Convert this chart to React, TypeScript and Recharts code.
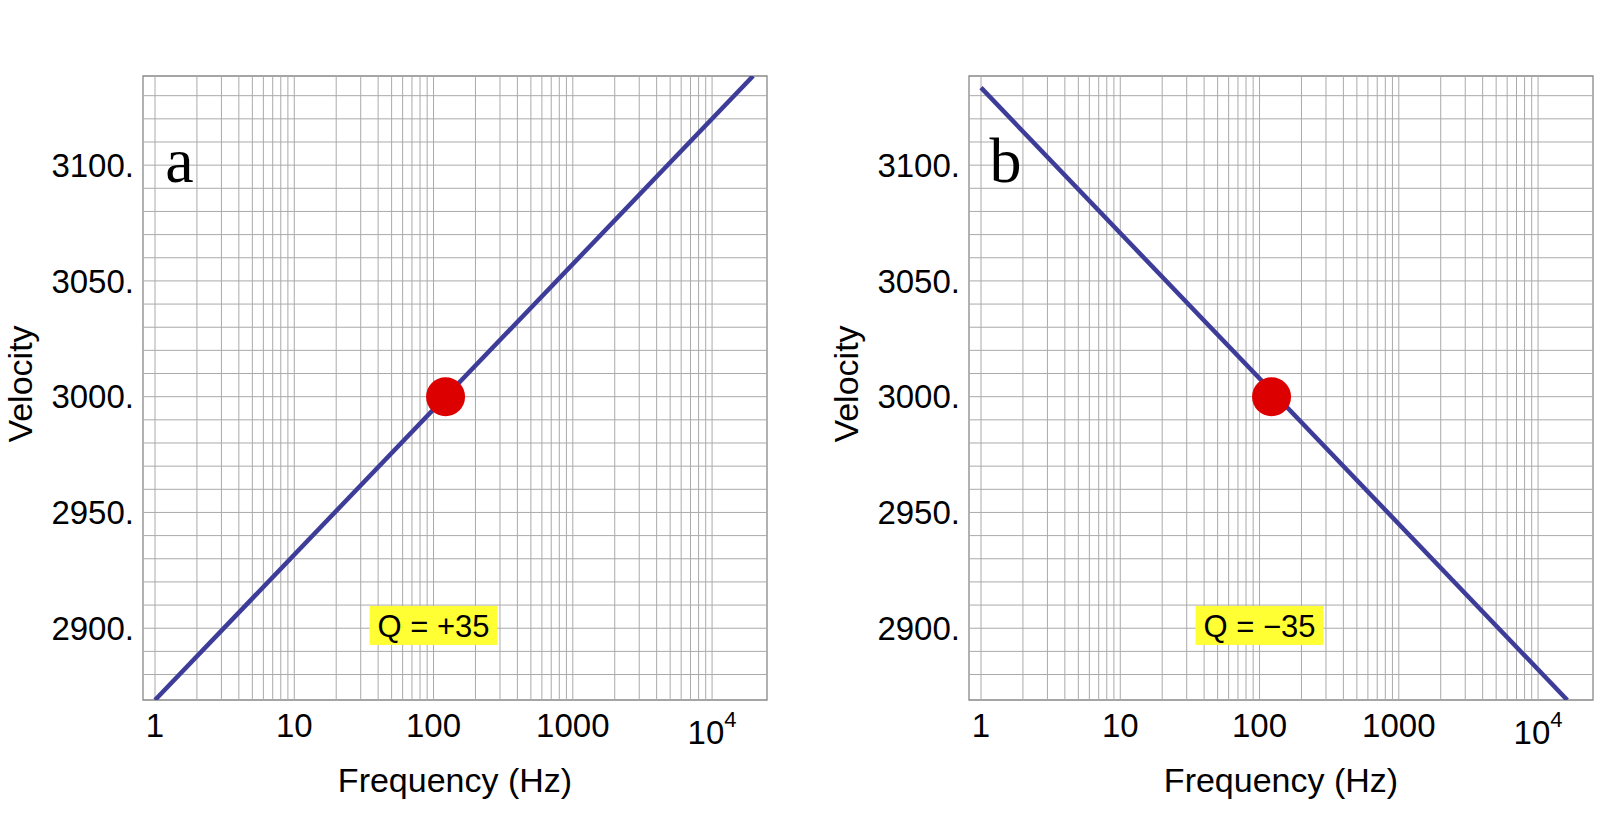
import React from "react";
import { ComposedChart, Line, XAxis, YAxis, ReferenceLine, ReferenceDot, ReferenceArea } from "recharts";

const xDomain: [number, number] = [0.82, 24800];
const yDomain: [number, number] = [2869, 3138.5];
const xTicks = [1, 10, 100, 1000, 10000];
const yTicks = [2900, 2950, 3000, 3050, 3100];
const xGrid = [
  1, 2, 3, 4, 5, 6, 7, 8, 9,
  10, 20, 30, 40, 50, 60, 70, 80, 90,
  100, 200, 300, 400, 500, 600, 700, 800, 900,
  1000, 2000, 3000, 4000, 5000, 6000, 7000, 8000, 9000,
  10000,
];
const yGrid = [
  2880, 2890, 2900, 2910, 2920, 2930, 2940, 2950, 2960, 2970, 2980, 2990, 3000,
  3010, 3020, 3030, 3040, 3050, 3060, 3070, 3080, 3090, 3100, 3110, 3120, 3130,
];

const lineA = [
  { f: 1, v: 2869 },
  { f: 19700, v: 3138.5 },
];
const lineB = [
  { f: 1, v: 3133.5 },
  { f: 16200, v: 2869 },
];
const refPoint = { f: 122, v: 3000 };
const qLabels = ["Q = +35", "Q = \u221235"];
const qPos = { f: 100, v: 2901 };
const panelLetters = ["a", "b"];
const letterPos = { f: 1.5, v: 3100 };

const SANS = "'Liberation Sans', Arial, Helvetica, sans-serif";
const SERIF = "'Liberation Serif', 'Times New Roman', serif";
const LINE_COLOR = "#3d3d99";
const GRID_COLOR = "#aaaaaa";

function XTick({ x, y, payload }: any) {
  const v = payload.value;
  if (v === 10000) {
    return (
      <text x={x} y={y + 32} textAnchor="middle" dominantBaseline="central" fontFamily={SANS} fontSize={33} fill="#000">
        <tspan>10</tspan>
        <tspan dy={-13} fontSize={22}>4</tspan>
      </text>
    );
  }
  return (
    <text x={x} y={y + 25} textAnchor="middle" dominantBaseline="central" fontFamily={SANS} fontSize={33} fill="#000">
      {String(v)}
    </text>
  );
}

function Panel({ data, label, letter, left, width, marginLeft, marginRight }: any) {
  return (
    <div style={{ position: "absolute", left, top: 0 }}>
      <ComposedChart
        width={width}
        height={834}
        margin={{ top: 76, right: marginRight, bottom: 0, left: marginLeft }}
      >
        <XAxis
          dataKey="f"
          type="number"
          scale="log"
          domain={xDomain}
          allowDataOverflow
          ticks={xTicks}
          tick={<XTick />}
          tickLine={false}
          tickSize={0}
          tickMargin={0}
          axisLine={false}
          height={134}
          label={{
            content: (p: any) => {
              const vb = p.viewBox;
              return (
                <text
                  x={vb.x + vb.width / 2}
                  y={vb.y + 80}
                  textAnchor="middle"
                  dominantBaseline="central"
                  fontFamily={SANS}
                  fontSize={34}
                  fill="#000"
                >
                  Frequency (Hz)
                </text>
              );
            },
          }}
        />
        <YAxis
          dataKey="v"
          type="number"
          domain={yDomain}
          allowDataOverflow
          ticks={yTicks}
          tickFormatter={(v: number) => `${v}.`}
          tick={{ fontFamily: SANS, fontSize: 33, fill: "#000" }}
          tickLine={false}
          tickSize={0}
          tickMargin={9}
          axisLine={false}
          width={100}
          label={{
            content: (p: any) => {
              const vb = p.viewBox;
              const cx = vb.x + vb.width - 123;
              const cy = vb.y + vb.height / 2 - 4;
              return (
                <text
                  x={cx}
                  y={cy}
                  transform={`rotate(-90 ${cx} ${cy})`}
                  textAnchor="middle"
                  dominantBaseline="central"
                  fontFamily={SANS}
                  fontSize={34}
                  fill="#000"
                >
                  Velocity
                </text>
              );
            },
          }}
        />
        {yGrid.map((g) => (
          <ReferenceLine key={`h${g}`} y={g} stroke={GRID_COLOR} strokeWidth={1} />
        ))}
        {xGrid.map((g) => (
          <ReferenceLine key={`v${g}`} x={g} stroke={GRID_COLOR} strokeWidth={1} />
        ))}
        <ReferenceArea
          x1={xDomain[0]}
          x2={xDomain[1]}
          y1={yDomain[0]}
          y2={yDomain[1]}
          fill="none"
          fillOpacity={0}
          stroke="#888888"
          strokeWidth={1.3}
        />
        <Line
          data={data}
          dataKey="v"
          type="linear"
          stroke={LINE_COLOR}
          strokeWidth={4.5}
          dot={false}
          activeDot={false}
          isAnimationActive={false}
        />
        <ReferenceDot x={refPoint.f} y={refPoint.v} r={19.5} fill="#dd0000" stroke="none" />
        <ReferenceDot
          x={qPos.f}
          y={qPos.v}
          r={1}
          shape={(p: any) => (
            <g>
              <rect x={p.cx - 64} y={p.cy - 20} width={128} height={39} fill="#ffff33" />
              <text
                x={p.cx}
                y={p.cy + 0.5}
                textAnchor="middle"
                dominantBaseline="central"
                fontFamily={SANS}
                fontSize={31}
                fill="#000"
              >
                {label}
              </text>
            </g>
          )}
        />
        <ReferenceDot
          x={letterPos.f}
          y={letterPos.v}
          r={1}
          shape={(p: any) => (
            <text x={p.cx} y={p.cy + 17} textAnchor="middle" fontFamily={SERIF} fontSize={64} fill="#000">
              {letter}
            </text>
          )}
        />
      </ComposedChart>
    </div>
  );
}

export default function App() {
  return (
    <div style={{ position: "absolute", left: 0, top: 0, width: 1600, height: 834, background: "#fff" }}>
      <Panel data={lineA} label={qLabels[0]} letter={panelLetters[0]} left={0} width={800} marginLeft={43} marginRight={33} />
      <Panel data={lineB} label={qLabels[1]} letter={panelLetters[1]} left={825} width={775} marginLeft={44} marginRight={7} />
    </div>
  );
}
